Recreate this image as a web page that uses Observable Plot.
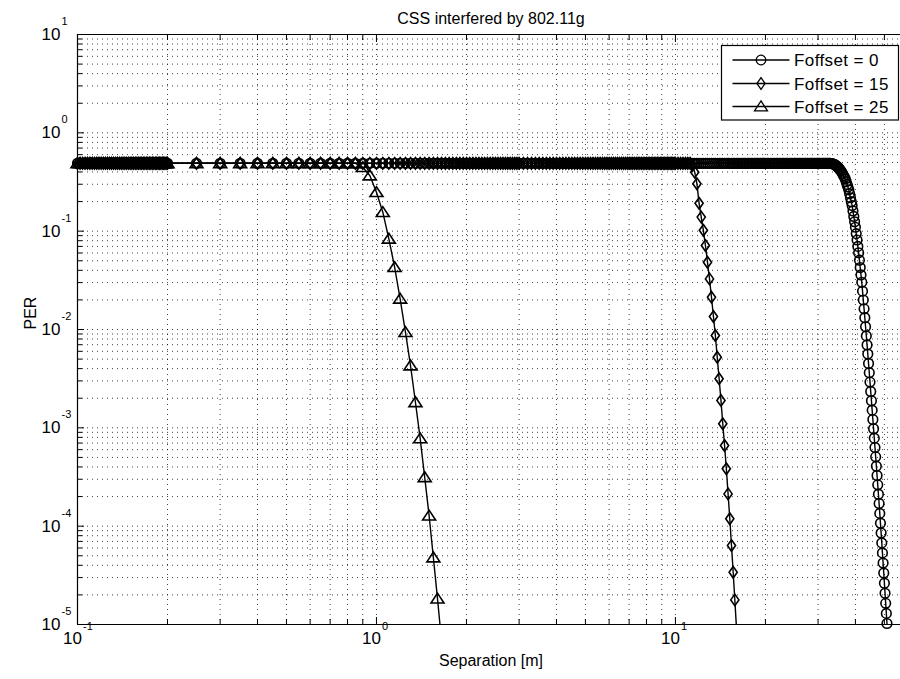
<!DOCTYPE html>
<html>
<head>
<meta charset="utf-8">
<script src="https://cdn.jsdelivr.net/npm/d3@7"></script>
<script src="https://cdn.jsdelivr.net/npm/@observablehq/plot@0.6"></script>
<style>
  html, body { margin: 0; padding: 0; background: #fff; }
  svg { display: block; }
</style>
</head>
<body>
<script>
// ---------------- DATA ----------------
const chartTitle = "CSS interfered by 802.11g";
const xLabel = "Separation [m]";
const yLabel = "PER";
const seriesNames = ["Foffset = 0", "Foffset = 15", "Foffset = 25"];

const xMajorTicks = [0.1, 1, 10];
const xTickExponents = ["-1", "0", "1"];
const xMinorTicks = [0.2,0.3,0.4,0.5,0.6,0.7,0.8,0.9, 2,3,4,5,6,7,8,9, 20,30,40,50];
const yMajorTicks = [1e-5, 1e-4, 1e-3, 1e-2, 1e-1, 1, 10];
const yTickExponents = ["-5", "-4", "-3", "-2", "-1", "0", "1"];
const yMinorTicks = [2e-5,3e-5,4e-5,5e-5,6e-5,7e-5,8e-5,9e-5,
  2e-4,3e-4,4e-4,5e-4,6e-4,7e-4,8e-4,9e-4,
  2e-3,3e-3,4e-3,5e-3,6e-3,7e-3,8e-3,9e-3,
  0.02,0.03,0.04,0.05,0.06,0.07,0.08,0.09,
  0.2,0.3,0.4,0.5,0.6,0.7,0.8,0.9,
  2,3,4,5,6,7,8,9];

// separation sample points (m) on the flat part of the curves
const gridA = [0.1,0.102,0.104,0.106,0.108,0.11,0.112,0.114,0.116,0.118,0.12,0.122,0.124,0.126,0.128,0.13,0.132,0.134,0.136,0.138,0.14,0.142,0.144,0.146,0.148,0.15,0.152,0.154,0.156,0.158,0.16,0.162,0.164,0.166,0.168,0.17,0.172,0.174,0.176,0.178,0.18,0.182,0.184,0.186,0.188,0.19,0.192,0.194,0.196,0.198,0.2];
const gridB = [0.25,0.3,0.35,0.4,0.45,0.5,0.55,0.6,0.65,0.7,0.75,0.8,0.85,0.9,0.95,1,1.05,1.1,1.15,1.2,1.25,1.3,1.35,1.4,1.45,1.5,1.55,1.6,1.65,1.7,1.75,1.8,1.85,1.9,1.95,2,2.05,2.1,2.15,2.2,2.25,2.3,2.35,2.4,2.45,2.5,2.55,2.6,2.65,2.7,2.75,2.8,2.85,2.9,2.95,3];
const gridC = [3.1,3.2,3.3,3.4,3.5,3.6,3.7,3.8,3.9,4,4.1,4.2,4.3,4.4,4.5,4.6,4.7,4.8,4.9,5,5.1,5.2,5.3,5.4,5.5,5.6,5.7,5.8,5.9,6,6.1,6.2,6.3,6.4,6.5,6.6,6.7,6.8,6.9,7,7.1,7.2,7.3,7.4,7.5,7.6,7.7,7.8,7.9,8,8.1,8.2,8.3,8.4,8.5,8.6,8.7,8.8,8.9,9,9.1,9.2,9.3,9.4,9.5,9.6,9.7,9.8,9.9,10];
const gridD = [10.2,10.4,10.6,10.8,11,11.2,11.4,11.6,11.8,12,12.2,12.4,12.6,12.8,13,13.2,13.4,13.6,13.8,14,14.2,14.4,14.6,14.8,15,15.2,15.4,15.6,15.8,16,16.2,16.4,16.6,16.8,17,17.2,17.4,17.6,17.8,18,18.2,18.4,18.6,18.8,19,19.2,19.4,19.6,19.8,20];
const gridE = [20.25,20.5,20.75,21,21.25,21.5,21.75,22,22.25,22.5,22.75,23,23.25,23.5,23.75,24,24.25,24.5,24.75,25,25.25,25.5,25.75,26,26.25,26.5,26.75,27,27.25,27.5,27.75,28,28.25,28.5,28.75,29,29.25,29.5,29.75,30,30.25,30.5,30.75,31,31.25,31.5,31.75,32,32.25,32.5,32.75];
const plateauPER = 0.49;

// Foffset = 0 (circles): falling edge
const circDropX = [33,33.25,33.5,33.75,34,34.25,34.5,34.75,35,35.25,35.5,35.75,36,36.25,36.5,36.75,37,37.25,37.5,37.75,38,38.25,38.5,38.75,39,39.25,39.5,39.75,40,40.25,40.5,40.75,41,41.25,41.5,41.75,42,42.25,42.5,42.75,43,43.25,43.5,43.75,44,44.25,44.5,44.75,45,45.25,45.5,45.75,46,46.25,46.5,46.75,47,47.25,47.5,47.75,48,48.25,48.5,48.75,49,49.25,49.5,49.75,50,50.25,50.5,50.75,51,51.25];
const circDropLog10PER = [-0.310,-0.312,-0.315,-0.317,-0.320,-0.327,-0.335,-0.342,-0.350,-0.362,-0.375,-0.387,-0.400,-0.417,-0.435,-0.452,-0.470,-0.497,-0.525,-0.552,-0.580,-0.620,-0.660,-0.700,-0.740,-0.795,-0.850,-0.905,-0.960,-1.025,-1.090,-1.155,-1.220,-1.295,-1.370,-1.445,-1.520,-1.610,-1.700,-1.790,-1.880,-1.972,-2.065,-2.157,-2.250,-2.345,-2.440,-2.535,-2.630,-2.725,-2.820,-2.915,-3.010,-3.105,-3.200,-3.295,-3.390,-3.485,-3.580,-3.675,-3.770,-3.870,-3.970,-4.070,-4.170,-4.272,-4.375,-4.477,-4.580,-4.682,-4.785,-4.887,-4.990,-5.092];

// Foffset = 15 (diamonds): falling edge
const diaDropX = [11.4,11.6,11.8,12,12.2,12.4,12.6,12.8,13,13.2,13.4,13.6,13.8,14,14.2,14.4,14.6,14.8,15,15.2,15.4,15.6,15.8,16];
const diaDropPER = [0.468,0.398,0.303,0.192,0.139,0.102,0.0714,0.0483,0.0327,0.0213,0.01355,0.00869,0.00522,0.00316,0.0019,0.0011,0.000661,0.000383,0.000213,0.000119,0.0000635,0.000034,0.0000178,0.0000093];

// Foffset = 25 (triangles): falling edge
const triDropX = [0.9,0.95,1,1.05,1.1,1.15,1.2,1.25,1.3,1.35,1.4,1.45,1.5,1.55,1.6,1.65];
const triDropPER = [0.447,0.368,0.249,0.156,0.0836,0.043,0.0205,0.0094,0.0043,0.00182,0.00078,0.000314,0.000128,0.000048,0.0000183,0.0000069];

// ---------------- BUILD ----------------
const grid = [...gridA, ...gridB, ...gridC, ...gridD, ...gridE];
function buildSeries(dropX, dropPER) {
  const pts = grid.filter(x => x < dropX[0]).map(x => ({x, per: plateauPER}));
  dropX.forEach((x, i) => pts.push({x, per: dropPER[i]}));
  return pts;
}
const sCirc = buildSeries(circDropX, circDropLog10PER.map(v => Math.pow(10, v)));
const sDia = buildSeries(diaDropX, diaDropPER);
const sTri = buildSeries(triDropX, triDropPER);
const yMin = 1e-5, yMax = 10;
const inDomain = d => d.per >= yMin * 0.999 && d.per <= yMax;

const symCircle = {draw(ctx, size) { const r = Math.sqrt(size / Math.PI); ctx.moveTo(r, 0); ctx.arc(0, 0, r, 0, 2 * Math.PI); ctx.closePath(); }};
const symDiamond = {draw(ctx, size) { const r = Math.sqrt(size / Math.PI); ctx.moveTo(0, -1.2 * r); ctx.lineTo(0.85 * r, 0); ctx.lineTo(0, 1.2 * r); ctx.lineTo(-0.85 * r, 0); ctx.closePath(); }};
const symTriangle = {draw(ctx, size) { const r = Math.sqrt(size / Math.PI); ctx.moveTo(0, -1.15 * r); ctx.lineTo(1.35 * r, 0.9 * r); ctx.lineTo(-1.35 * r, 0.9 * r); ctx.closePath(); }};
const R = 4.8;
const SW = 1.6;
const series = [
  {data: sCirc, sym: symCircle},
  {data: sDia, sym: symDiamond},
  {data: sTri, sym: symTriangle}
];

const font = "'Liberation Sans', Arial, Helvetica, sans-serif";
const gridStyle = {stroke: "#000", strokeOpacity: 0.75, strokeWidth: 1, strokeDasharray: "1,4"};

const marks = [
  Plot.gridX([...xMajorTicks, ...xMinorTicks], gridStyle),
  Plot.gridY([...yMajorTicks, ...yMinorTicks], gridStyle),
  // inward ticks
  Plot.axisX(xMajorTicks, {anchor: "bottom", tickSize: 7, dy: -7, fill: "none", label: null}),
  Plot.axisX(xMinorTicks, {anchor: "bottom", tickSize: 5, dy: -5, fill: "none", label: null}),
  Plot.axisX(xMajorTicks, {anchor: "top", tickSize: 7, dy: 7, fill: "none", label: null}),
  Plot.axisX(xMinorTicks, {anchor: "top", tickSize: 5, dy: 5, fill: "none", label: null}),
  Plot.axisY(yMajorTicks, {anchor: "left", tickSize: 7, dx: 7, fill: "none", label: null}),
  Plot.axisY(yMinorTicks, {anchor: "left", tickSize: 5, dx: 5, fill: "none", label: null}),
];
for (const s of series) {
  marks.push(Plot.line(s.data, {x: "x", y: "per", stroke: "#000", strokeWidth: 1.4, clip: true}));
  marks.push(Plot.dot(s.data.filter(inDomain), {x: "x", y: "per", r: R, symbol: s.sym, stroke: "#000", fill: "none", strokeWidth: SW}));
}
marks.push(
  Plot.ruleY([yMin, yMax], {stroke: "#000", strokeWidth: 1.2}),
  Plot.ruleX([xMajorTicks[0]], {stroke: "#000", strokeWidth: 1.2}),
  // tick labels
  Plot.text(xMajorTicks, {x: d => d, frameAnchor: "bottom", dy: 19, dx: -5, text: () => "10", fontSize: 17, textAnchor: "middle", fill: "#000"}),
  Plot.text(xMajorTicks, {x: d => d, frameAnchor: "bottom", dy: 5, dx: 5.5, text: (d, i) => xTickExponents[i], fontSize: 11, textAnchor: "start", fill: "#000"}),
  Plot.text(yMajorTicks, {y: d => d, frameAnchor: "left", dx: -17, text: () => "10", fontSize: 17, textAnchor: "end", fill: "#000"}),
  Plot.text(yMajorTicks, {y: d => d, frameAnchor: "left", dx: -16, dy: -13, text: (d, i) => yTickExponents[i], fontSize: 11, textAnchor: "start", fill: "#000"}),
  // titles
  Plot.text([chartTitle], {frameAnchor: "top", dy: -22, dx: 2, fontSize: 16, fill: "#000"}),
  Plot.text([xLabel], {frameAnchor: "bottom", dy: 41, dx: 2, fontSize: 16, fill: "#000"}),
  Plot.text([yLabel], {frameAnchor: "left", dx: -47, rotate: -90, fontSize: 16, fill: "#000"})
);

const svg = Plot.plot({
  width: 900, height: 679,
  marginLeft: 77, marginRight: 0, marginTop: 34, marginBottom: 55,
  style: {fontFamily: font, background: "#fff", color: "#000", overflow: "visible"},
  x: {type: "log", domain: [0.1, 56.6], axis: null},
  y: {type: "log", domain: [yMin, yMax], axis: null},
  marks
});

// ---------------- LEGEND ----------------
const sel = d3.select(svg);
const lg = sel.append("g").attr("class", "legend").attr("text-anchor", "start");
lg.append("rect").attr("x", 721.5).attr("y", 45.5).attr("width", 177).attr("height", 74.5)
  .attr("fill", "#fff").attr("stroke", "#000").attr("stroke-width", 1.2);
const rowsY = [60, 83.5, 106.5];
series.forEach((s, i) => {
  const y = rowsY[i];
  lg.append("line").attr("x1", 732.5).attr("x2", 789.5).attr("y1", y).attr("y2", y)
    .attr("stroke", "#000").attr("stroke-width", 1.3);
  lg.append("path").attr("d", d3.symbol(s.sym, R * R * Math.PI)())
    .attr("transform", `translate(761,${y})`).attr("fill", "none").attr("stroke", "#000").attr("stroke-width", 1.3);
  lg.append("text").attr("x", 794).attr("y", y).attr("dy", "0.36em").attr("text-anchor", "start")
    .attr("font-size", 17).attr("letter-spacing", "0.4").attr("font-family", font).attr("fill", "#000").text(seriesNames[i]);
});

document.body.appendChild(svg);
</script>
</body>
</html>
